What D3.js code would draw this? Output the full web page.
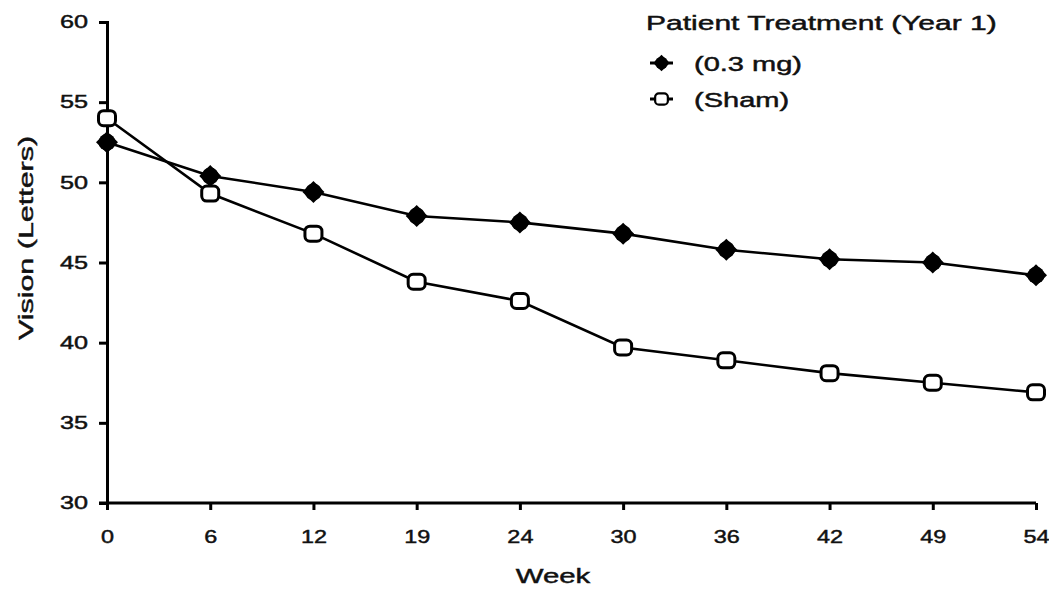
<!DOCTYPE html>
<html>
<head>
<meta charset="utf-8">
<script src="https://cdn.jsdelivr.net/npm/d3@7"></script>
<style>
  body { margin: 0; background: #fff; }
  text { font-family: "Liberation Sans", Arial, sans-serif; fill: #111; stroke: #111; stroke-width: 0.45px; }
</style>
</head>
<body>
<div id="chart"></div>
<script>
// chart data
const weeks = ['0', '6', '12', '19', '24', '30', '36', '42', '49', '54'];
const dose03 = [52.5, 50.4, 49.4, 47.9, 47.5, 46.8, 45.8, 45.2, 45.0, 44.2];
const sham = [54.0, 49.3, 46.8, 43.8, 42.6, 39.7, 38.9, 38.1, 37.5, 36.9];
const yTicks = [30, 35, 40, 45, 50, 55, 60];
const legendTitle = 'Patient Treatment (Year 1)';
const seriesNames = ['(0.3 mg)', '(Sham)'];

const width = 1049;
const height = 590;

const svg = d3.select('#chart')
  .append('svg')
  .attr('width', width)
  .attr('height', height);

const x = d3.scalePoint()
  .domain(weeks)
  .range([107, 1036]);

const y = d3.scaleLinear()
  .domain([30, 60])
  .range([503, 22]);

// stretch text horizontally, the source picture was widened
const stretch = (sel, k) => sel.each(function() {
  const w = this.getComputedTextLength();
  d3.select(this).attr('textLength', w * k).attr('lengthAdjust', 'spacingAndGlyphs');
});

const fontStyle = sel => sel
  .style('font-family', '"Liberation Sans", Arial, sans-serif')
  .attr('fill', '#111');

// y axis
const yAxis = svg.append('g')
  .attr('transform', `translate(${x(weeks[0])},0)`)
  .call(d3.axisLeft(y).tickValues(yTicks).tickSize(8).tickPadding(11));
yAxis.select('.domain').attr('stroke', '#000').attr('stroke-width', 3);
yAxis.selectAll('.tick line').attr('stroke', '#000').attr('stroke-width', 3);
yAxis.selectAll('.tick text')
  .attr('font-size', 18)
  .call(fontStyle)
  .call(stretch, 1.4);

// x axis
const xAxis = svg.append('g')
  .attr('transform', `translate(0,${y(30)})`)
  .call(d3.axisBottom(x).tickSize(7).tickPadding(20).tickSizeOuter(0));
xAxis.select('.domain').attr('stroke', '#000').attr('stroke-width', 3)
  .attr('d', `M${x(weeks[0]) - 8},0H${x(weeks[weeks.length - 1])}`);
xAxis.selectAll('.tick line').attr('stroke', '#000').attr('stroke-width', 3);
xAxis.selectAll('.tick text')
  .attr('font-size', 18)
  .call(fontStyle)
  .call(stretch, 1.3);

// axis titles
svg.append('text')
  .attr('transform', 'translate(33,238) rotate(-90)')
  .attr('text-anchor', 'middle')
  .attr('font-size', 21)
  .text('Vision (Letters)')
  .call(stretch, 1.45);

svg.append('text')
  .attr('x', 553)
  .attr('y', 583)
  .attr('text-anchor', 'middle')
  .attr('font-size', 21)
  .text('Week')
  .call(stretch, 1.4);

// lines
const line = d3.line()
  .x((d, i) => x(weeks[i]))
  .y(d => y(d));

svg.append('path')
  .datum(sham)
  .attr('d', line)
  .attr('fill', 'none')
  .attr('stroke', '#000')
  .attr('stroke-width', 2.6);

svg.append('path')
  .datum(dose03)
  .attr('d', line)
  .attr('fill', 'none')
  .attr('stroke', '#000')
  .attr('stroke-width', 2.6);

// markers
const filledMarker = (g) => {
  g.append('path')
    .attr('d', 'M0,-11L11,0L0,11L-11,0Z')
    .attr('fill', '#000');
  g.append('circle').attr('r', 8.5).attr('fill', '#000');
};
const openMarker = (g) => {
  g.append('rect')
    .attr('x', -8.5).attr('y', -7.5).attr('width', 17).attr('height', 15)
    .attr('rx', 5)
    .attr('fill', '#fff')
    .attr('stroke', '#000')
    .attr('stroke-width', 3);
};

svg.append('g').selectAll('g')
  .data(sham)
  .join('g')
  .attr('transform', (d, i) => `translate(${x(weeks[i])},${y(d)})`)
  .each(function() { openMarker(d3.select(this)); });

svg.append('g').selectAll('g')
  .data(dose03)
  .join('g')
  .attr('transform', (d, i) => `translate(${x(weeks[i])},${y(d)})`)
  .each(function() { filledMarker(d3.select(this)); });

// legend
const legend = svg.append('g');
legend.append('text')
  .attr('x', 646)
  .attr('y', 30)
  .attr('font-size', 20)
  .text(legendTitle)
  .call(stretch, 1.5);

const markers = [filledMarker, openMarker];
seriesNames.forEach((name, i) => {
  const ly = 63 + i * 36;
  legend.append('line')
    .attr('x1', 650).attr('x2', 673)
    .attr('y1', ly).attr('y2', ly)
    .attr('stroke', '#000').attr('stroke-width', 3);
  const g = legend.append('g')
    .attr('transform', `translate(661.5,${ly}) scale(0.75)`);
  markers[i](g);
  legend.append('text')
    .attr('x', 694)
    .attr('y', ly + 8)
    .attr('font-size', 20)
    .text(name)
    .call(stretch, 1.45);
});
</script>
</body>
</html>
